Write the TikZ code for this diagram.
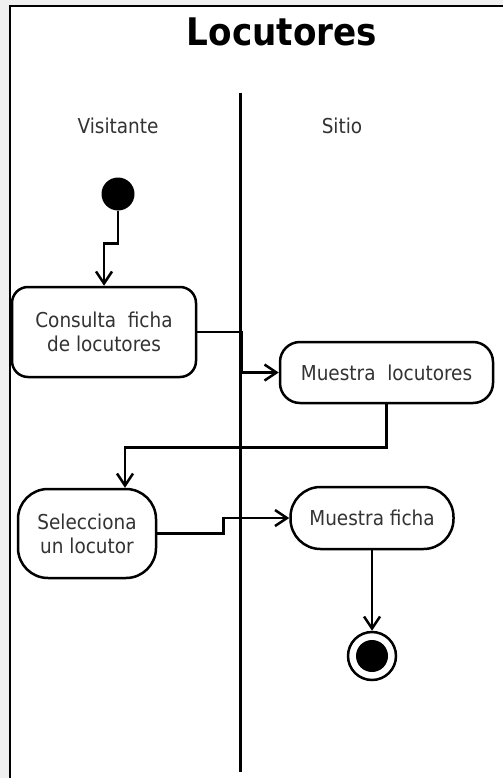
\documentclass[tikz,border=0pt]{standalone}
\usepackage{fontspec}
\setmainfont{DejaVu Sans Condensed}
\usetikzlibrary{arrows.meta}
\definecolor{txt}{HTML}{333333}
\definecolor{outside}{HTML}{F0F0F0}
\begin{document}
\begin{tikzpicture}[x=1pt,y=-1pt,>={Straight Barb[length=12pt,width=16pt]}]
  \tikzset{every node/.style={text=txt,font=\fontsize{20.5}{24}\selectfont,align=center},
    act/.style={draw=black,line width=2.5pt,rounded corners=#1,inner sep=0pt},
    act/.default=16pt,
    flow/.style={->,line width=2.5pt}}
  \useasboundingbox (0,0) rectangle (503,778);
  \fill[outside] (0,0) rectangle (503,778);
  \fill[white] (10,6) rectangle (503,778);
  \draw[line width=2.5pt] (10,778) -- (10,6) -- (503,6);
  \draw[line width=3pt] (240,93) -- (240,772);

  \node (title) at (282,32) {\fontsize{38}{40}\selectfont\bfseries\color{black}Locutores};
  \node (visit) at (118,126) {Visitante};
  \node (sitio) at (342,126) {Sitio};

  \node[circle,fill=black,minimum size=33pt,inner sep=0pt] (start) at (118,194) {};
  \node[act,minimum width=184pt,minimum height=90pt] (consulta) at (104,332) {Consulta~ ficha\\de locutores};
  \node[act=20pt,minimum width=213pt,minimum height=61pt] (mlocut) at (386.5,372.5) {Muestra~ locutores};
  \node[act=30pt,minimum width=138pt,minimum height=89pt] (selecc) at (87,533.5) {Selecciona\\un locutor};
  \node[act=30pt,minimum width=163pt,minimum height=62pt] (mficha) at (372,518) {Muestra ficha};
  \node[circle,draw=black,line width=2.5pt,minimum size=48pt,inner sep=0pt] (fin) at (372,656) {};
  \fill (fin) circle (16pt);

  \draw[flow] (start.south) -- ++(0,33) -| (consulta.north);
  \draw[flow] (consulta.east) -- ++(44,0) |- (mlocut.west);
  \draw[flow] (mlocut.south) -- ++(0,43) -| ([xshift=38]selecc.north);
  \draw[flow] (selecc.east) -- ++(66,0) |- (mficha.west);
  \draw[flow] (mficha.south) -- (fin.north);
\end{tikzpicture}
\end{document}
